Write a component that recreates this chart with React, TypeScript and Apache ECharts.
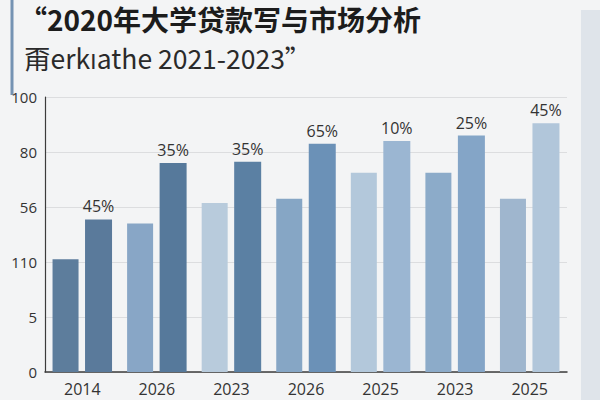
import { useEffect, useRef } from 'react';
import * as echarts from 'echarts';

const categories = ['2014', '2026', '2023', '2026', '2025', '2023', '2025'];
const firstValues = [41, 54, 61.5, 63, 72.5, 72.5, 63];
const secondValues = [55.5, 76, 76.5, 83, 84, 86, 90.5];
const percentLabels = ['45%', '35%', '35%', '65%', '10%', '25%', '45%'];
const yTickLabels = ['0', '5', '110', '56', '80', '100'];

// every bar has its own shade in the print
const firstColors = ['#5d7d9c', '#88a6c6', '#b8cbdc', '#86a6c5', '#b3c8db', '#8cabc9', '#9fb6ce'];
const secondColors = ['#5a7a9b', '#56799b', '#5b80a3', '#6b91b7', '#9bb6d2', '#84a5c7', '#b1c6da'];

const CJK = '"Noto Sans CJK SC", "Open Sans", sans-serif';
const SANS = '"Open Sans", "Noto Sans", sans-serif';

export default function App() {
  const box = useRef<HTMLDivElement>(null);

  useEffect(() => {
    if (!box.current) return;
    const chart = echarts.init(box.current, undefined, { renderer: 'svg' });

    chart.setOption({
      animation: false,
      backgroundColor: '#f3f4f5',
      textStyle: { fontFamily: SANS },
      title: [
        {
          text: '“2020年大学贷款写与市场分析',
          left: 19,
          top: 4,
          padding: 0,
          textStyle: { fontFamily: CJK, fontSize: 28, lineHeight: 30, fontWeight: 'bold', color: '#1c1c1c' },
        },
        {
          text: '甭erkıathe 2021-2023”',
          left: 24,
          top: 43,
          padding: 0,
          textStyle: { fontFamily: CJK, fontSize: 26.5, lineHeight: 28, fontWeight: 'normal', color: '#2a2a2a' },
        },
      ],
      graphic: [
        {
          type: 'line',
          shape: { x1: 12, y1: 0, x2: 12, y2: 95 },
          style: { stroke: '#7593b3', lineWidth: 3 },
        },
        {
          type: 'rect',
          shape: { x: 581, y: 10, width: 19, height: 390 },
          style: { fill: '#dfe4ea' },
        },
      ],
      grid: { left: 45, right: 33, top: 97, bottom: 28 },
      xAxis: {
        type: 'category',
        data: categories,
        axisLine: { lineStyle: { color: '#3c3c3c', width: 1.5 } },
        axisTick: { show: false },
        axisLabel: { color: '#333', fontSize: 16, margin: 9 },
      },
      yAxis: {
        type: 'value',
        min: 0,
        max: 100,
        interval: 20,
        axisLine: { show: true, lineStyle: { color: '#3c3c3c', width: 1.2 } },
        axisTick: { show: false },
        splitLine: { lineStyle: { color: '#dcdddf', width: 1 } },
        axisLabel: {
          color: '#333',
          fontSize: 15,
          margin: 8,
          formatter: (v: number) => yTickLabels[Math.round(v / 20)] ?? '',
        },
      },
      series: [
        {
          type: 'bar',
          barWidth: 26,
          barGap: '25%',
          data: firstValues.map((v, i) => ({ value: v, itemStyle: { color: firstColors[i] } })),
        },
        {
          type: 'bar',
          barWidth: 27,
          data: secondValues.map((v, i) => ({ value: v, itemStyle: { color: secondColors[i] } })),
          label: {
            show: true,
            position: 'top',
            distance: 5,
            color: '#333',
            fontSize: 16,
            formatter: (p: { dataIndex: number }) => percentLabels[p.dataIndex],
          },
        },
      ],
    });

    return () => chart.dispose();
  }, []);

  return <div ref={box} style={{ width: 600, height: 400, position: 'fixed', left: 0, top: 0 }} />;
}
